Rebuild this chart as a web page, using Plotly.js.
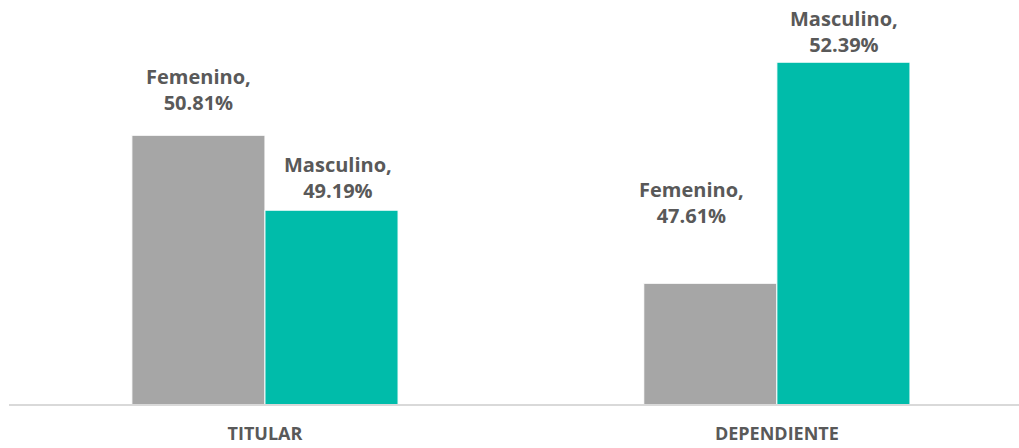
<!DOCTYPE html>
<html><head><meta charset="utf-8">
<script src="https://cdn.plot.ly/plotly-3.0.1.min.js"></script>
<style>html,body{margin:0;padding:0;background:#fff}#c{width:1019px;height:448px}</style>
</head><body><div id="c"></div>
<script>
const categories = ["TITULAR", "DEPENDIENTE"];
const femenino = [50.81, 47.61];
const masculino = [49.19, 52.39];
const femLabelShift = [{dx: 0, dy: 17}, {dx: -19, dy: 52}];
const mascLabelShift = [{dx: 6, dy: 4}, {dx: 0, dy: 2}];

const fmt = v => v.toFixed(2) + "%";
const labelFont = {family: "'Open Sans', sans-serif", size: 20, color: "#595959", weight: 700};

const traces = [
  {type: "bar", name: "Femenino", x: categories, y: femenino, marker: {color: "#a6a6a6", line: {color: "#ffffff", width: 1}}, hoverinfo: "none"},
  {type: "bar", name: "Masculino", x: categories, y: masculino, marker: {color: "#00bcaa", line: {color: "#ffffff", width: 1}}, hoverinfo: "none"}
];

const annotations = [];
categories.forEach((c, i) => {
  annotations.push({x: c, y: femenino[i], xref: "x", yref: "y", text: "<b>Femenino,<br>" + fmt(femenino[i]) + "</b>",
    showarrow: false, yanchor: "bottom", xanchor: "center", xshift: -66 + femLabelShift[i].dx, yshift: femLabelShift[i].dy, font: labelFont, align: "center"});
  annotations.push({x: c, y: masculino[i], xref: "x", yref: "y", text: "<b>Masculino,<br>" + fmt(masculino[i]) + "</b>",
    showarrow: false, yanchor: "bottom", xanchor: "center", xshift: 67 + mascLabelShift[i].dx, yshift: mascLabelShift[i].dy, font: labelFont, align: "center"});
});

const layout = {
  width: 1019, height: 448,
  margin: {l: 9, r: 0, t: 0, b: 44},
  paper_bgcolor: "#ffffff", plot_bgcolor: "#ffffff",
  barmode: "group", bargap: 0.48, bargroupgap: 0,
  showlegend: false,
  xaxis: {range: [-0.5, 1.473], showline: true, linecolor: "#d9d9d9", linewidth: 2, ticks: "", showgrid: false,
    ticklabelstandoff: 12,
    tickfont: {family: "'Open Sans', sans-serif", size: 18, color: "#595959", weight: 700}, fixedrange: true},
  yaxis: {range: [45, 53.735], visible: false, showgrid: false, zeroline: false, fixedrange: true},
  annotations: annotations
};
Plotly.newPlot("c", traces, layout, {displayModeBar: false, staticPlot: true});
</script></body></html>
